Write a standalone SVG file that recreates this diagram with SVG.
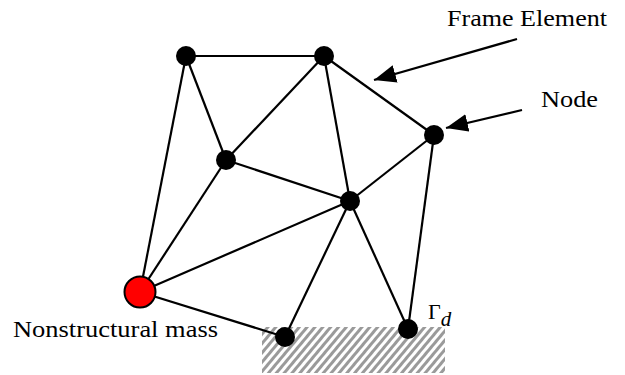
<svg xmlns="http://www.w3.org/2000/svg" width="625" height="375" viewBox="0 0 625 375">
<style>
.edge{stroke:#000;stroke-width:2.2;fill:none}
.node{fill:#000}
.mass{fill:#f00;stroke:#000;stroke-width:2}
.lbl{font-family:'Liberation Serif','DejaVu Serif',serif;font-size:23px;fill:#000}
.ptr{stroke:#000;stroke-width:2.2;fill:none}
</style>
<defs>
<pattern id="hatch" patternUnits="userSpaceOnUse" width="6" height="12" patternTransform="rotate(40)">
<rect x="0" y="0" width="6" height="12" fill="#fff"/>
<line x1="1.5" y1="0" x2="1.5" y2="12" stroke="#9a9a9a" stroke-width="3"/>
</pattern>
<marker id="arr" markerUnits="userSpaceOnUse" markerWidth="24" markerHeight="20" refX="22" refY="9" orient="auto">
<path d="M0,0 L22,9 L0,18 z" fill="#000"/>
</marker>
</defs>
<rect id="support" x="262" y="327" width="183" height="46" fill="url(#hatch)"/>
<g id="connectors">
<line class="edge" x1="186" y1="56" x2="324" y2="56"/>
<line class="edge" x1="186" y1="56" x2="226" y2="160"/>
<line class="edge" x1="186" y1="56" x2="140" y2="292"/>
<line class="edge" x1="324" y1="56" x2="226" y2="160"/>
<line class="edge" x1="324" y1="56" x2="350" y2="201"/>
<line class="edge" x1="324" y1="56" x2="434" y2="135"/>
<line class="edge" x1="226" y1="160" x2="350" y2="201"/>
<line class="edge" x1="226" y1="160" x2="140" y2="292"/>
<line class="edge" x1="350" y1="201" x2="434" y2="135"/>
<line class="edge" x1="350" y1="201" x2="140" y2="292"/>
<line class="edge" x1="350" y1="201" x2="285" y2="337"/>
<line class="edge" x1="350" y1="201" x2="408" y2="329"/>
<line class="edge" x1="434" y1="135" x2="408" y2="329"/>
<line class="edge" x1="140" y1="292" x2="285" y2="337"/>
<line class="ptr" x1="517" y1="39" x2="374" y2="80" marker-end="url(#arr)"/>
<line class="ptr" x1="522" y1="110" x2="446" y2="128" marker-end="url(#arr)"/>
</g>
<g id="n1"><circle class="node" cx="186" cy="56" r="10"/></g>
<g id="n2"><circle class="node" cx="324" cy="56" r="10"/></g>
<g id="n3"><circle class="node" cx="226" cy="160" r="10"/></g>
<g id="n4"><circle class="node" cx="350" cy="201" r="10"/></g>
<g id="n5"><circle class="node" cx="434" cy="135" r="10"/></g>
<g id="n6"><circle class="mass" cx="140" cy="292" r="15.5"/></g>
<g id="n7"><circle class="node" cx="285" cy="337" r="10"/></g>
<g id="n8"><circle class="node" cx="408" cy="329" r="10"/></g>
<g id="labels">
<text class="lbl" x="447" y="26" textLength="160" lengthAdjust="spacingAndGlyphs">Frame Element</text>
<text class="lbl" x="541" y="107" textLength="57" lengthAdjust="spacingAndGlyphs">Node</text>
<text class="lbl" x="13" y="337" textLength="205" lengthAdjust="spacingAndGlyphs">Nonstructural mass</text>
<text class="lbl" x="428" y="319" style="font-size:22px">Γ<tspan dy="7" style="font-style:italic;font-size:21px">d</tspan></text>
</g>
</svg>
